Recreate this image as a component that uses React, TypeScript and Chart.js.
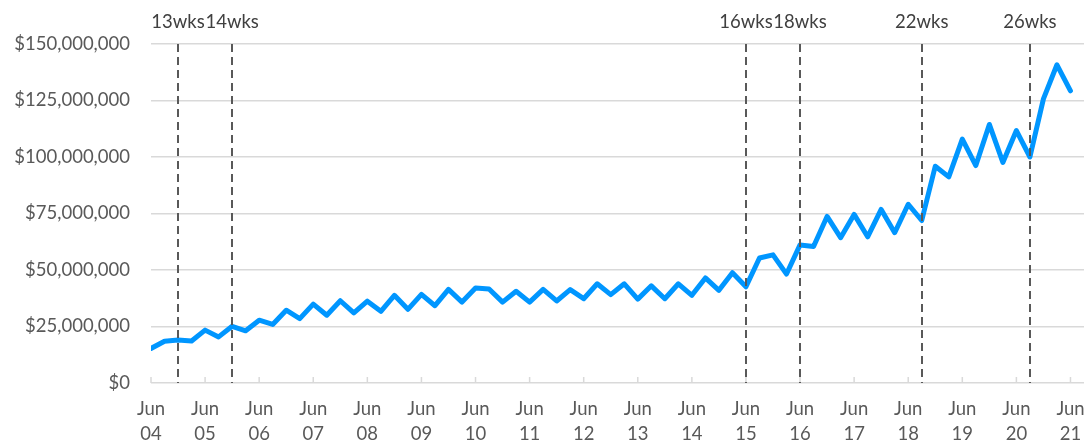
import React, { useEffect, useRef } from "react";
import { Chart, registerables } from "chart.js";

Chart.register(...registerables);

// Quarterly periods, Jun 04 .. Jun 21
const yearLabels = ["04", "05", "06", "07", "08", "09", "10", "11", "12", "13", "14", "15", "16", "17", "18", "19", "20", "21"];

const revenue = [
  15.3, 18.5, 19.0, 18.6, 23.4, 20.4, 25.1, 23.1, 27.8, 25.9,
  32.2, 28.5, 34.9, 30.0, 36.4, 31.0, 36.2, 31.7, 38.8, 32.6,
  39.2, 34.2, 41.4, 35.8, 42.0, 41.6, 35.8, 40.6, 35.8, 41.4,
  36.3, 41.3, 37.3, 43.9, 39.1, 43.9, 37.1, 43.0, 37.3, 43.9,
  38.8, 46.5, 41.0, 48.8, 42.6, 55.3, 56.7, 48.2, 61.1, 60.4,
  73.7, 64.3, 74.6, 64.7, 76.8, 66.5, 79.1, 71.9, 95.9, 91.2,
  107.9, 96.2, 114.4, 97.6, 111.7, 100.0, 125.7, 140.8, 129.3,
].map((v) => v * 1_000_000);

const markerIndex = [2, 6, 44, 48, 57, 65];
const markerLabels = ["13wks", "14wks", "16wks", "18wks", "22wks", "26wks"];

const yTicks = [0, 25_000_000, 50_000_000, 75_000_000, 100_000_000, 125_000_000, 150_000_000];

const FONT = "Lato, 'Noto Sans', sans-serif";
const FS = 18.5;

const overlayPlugin = {
  id: "overlay",
  afterDatasetsDraw(chart: any) {
    const { ctx, chartArea, scales } = chart;
    const x = scales.x;
    ctx.save();
    // inner tick marks
    ctx.strokeStyle = "#d9d9d9";
    ctx.lineWidth = 1.5;
    x.ticks.forEach((t: any) => {
      const px = x.getPixelForValue(t.value);
      ctx.beginPath();
      ctx.moveTo(px, chartArea.bottom);
      ctx.lineTo(px, chartArea.bottom - 6);
      ctx.stroke();
    });
    // dashed markers
    ctx.strokeStyle = "#595959";
    ctx.lineWidth = 2;
    ctx.setLineDash([8, 5]);
    markerIndex.forEach((idx) => {
      const px = Math.round(x.getPixelForValue(idx));
      ctx.beginPath();
      ctx.moveTo(px, chartArea.top);
      ctx.lineTo(px, chartArea.bottom);
      ctx.stroke();
    });
    ctx.setLineDash([]);
    ctx.fillStyle = "#404040";
    ctx.font = `${FS}px ${FONT}`;
    ctx.textAlign = "center";
    ctx.textBaseline = "middle";
    markerIndex.forEach((idx, i) => {
      const px = x.getPixelForValue(idx);
      ctx.fillText(markerLabels[i], px, 22);
    });
    ctx.restore();
  },
};

export default function App() {
  const ref = useRef<HTMLCanvasElement>(null);
  useEffect(() => {
    document.body.style.margin = "0";
    const points = revenue.map((v, i) => ({ x: i, y: v }));
    const chart = new Chart(ref.current!, {
      type: "line",
      data: {
        datasets: [
          {
            data: points,
            borderColor: "#0096ff",
            borderWidth: 5,
            pointRadius: 0,
            tension: 0,
            borderJoinStyle: "round",
            borderCapStyle: "round",
          },
        ],
      },
      options: {
        animation: false,
        responsive: false,
        maintainAspectRatio: false,
        layout: { padding: { top: 44, right: 2, left: 0, bottom: 0 } },
        plugins: { legend: { display: false }, tooltip: { enabled: false } },
        scales: {
          x: {
            type: "linear",
            min: 0,
            max: 69,
            afterBuildTicks: (scale: any) => {
              scale.ticks = yearLabels.map((_, i) => ({ value: i * 4 }));
            },
            afterFit: (scale: any) => {
              scale.height = 62;
              scale.paddingLeft = 0;
              scale.paddingRight = 0;
            },
            ticks: {
              autoSkip: false,
              maxRotation: 0,
              padding: 13,
              color: "#595959",
              font: { family: FONT, size: FS, lineHeight: 1.38 },
              callback: (v: any) => ["Jun", yearLabels[Math.round(v / 4)]],
            },
            grid: { display: false, drawTicks: false },
            border: { display: false },
          },
          y: {
            min: 0,
            max: 150_000_000,
            afterBuildTicks: (scale: any) => {
              scale.ticks = yTicks.map((v) => ({ value: v }));
            },
            afterFit: (scale: any) => {
              scale.width = 151;
              scale.paddingTop = 0;
              scale.paddingBottom = 0;
            },
            ticks: {
              padding: 21,
              color: "#595959",
              font: { family: FONT, size: FS },
              callback: (v: any) => "$" + Number(v).toLocaleString("en-US"),
            },
            grid: { color: "#d9d9d9", lineWidth: 1.5, drawTicks: false },
            border: { display: false },
          },
        },
      },
      plugins: [overlayPlugin],
    });
    return () => chart.destroy();
  }, []);
  return (
    <div style={{ width: 1086, height: 445 }}>
      <canvas ref={ref} width={1086} height={445} />
    </div>
  );
}
